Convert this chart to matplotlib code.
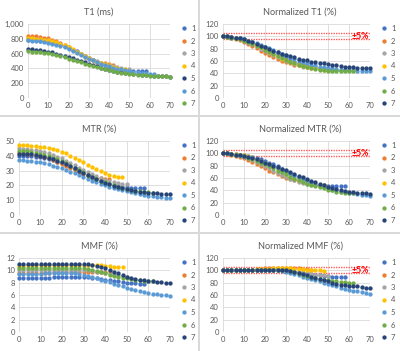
import matplotlib.pyplot as plt
from matplotlib.patches import Rectangle
from matplotlib.ticker import FuncFormatter

plt.rcParams['font.family'] = ['Lato', 'DejaVu Sans']

times = list(range(0, 72, 2))  # scan time, sampled every 2
labels = ['1', '2', '3', '4', '5', '6', '7']

blue, orange, grey, yellow = '#4472C4', '#ED7D31', '#A5A5A5', '#FFC000'
lblue, green, navy = '#5B9BD5', '#70AD47', '#264478'
colors = [blue, orange, grey, yellow, lblue, green, navy]
colors_t1 = [blue, orange, grey, yellow, navy, lblue, green]

# T1 (ms)
t1 = [
    [790, 785, 780, 775, 768, 760, 748, 735, 718, 700, 680, 655, 630, 600, 570, 540, 510, 485, 462, 442, 425, 410, 398, 388, 380, 374, 369, 365, 362, 360],
    [840, 838, 833, 826, 817, 805, 790, 770, 748, 722, 694, 655, 620, 588, 558, 530, 508, 490, 477, 467, 459, 452],
    [800, 798, 794, 788, 780, 770, 757, 742, 724, 703, 680, 655, 628, 600, 572, 545, 520, 497, 477, 458, 442, 428, 415, 404, 394, 386],
    [810, 808, 804, 798, 790, 780, 768, 752, 733, 710, 685, 657, 627, 597, 567, 540, 515, 493, 473, 456, 440, 425, 410, 398, 390],
    [660, 658, 655, 650, 640, 628, 615, 600, 585, 568, 551, 534, 517, 499, 481, 462, 444, 426, 410, 395, 381, 369, 358, 349, 341, 334, 327, 321, 315, 310, 305, 300, 296, 293, 291, 290],
    [780, 776, 770, 764, 756, 746, 734, 720, 703, 684, 662, 638, 612, 585, 558, 532, 507, 484, 463, 444, 427, 412, 398, 386, 375, 365, 356, 348, 340, 333, 326, 320],
    [630, 628, 625, 620, 612, 602, 590, 577, 563, 548, 533, 517, 500, 483, 466, 449, 432, 416, 401, 387, 374, 363, 353, 344, 336, 329, 322, 316, 311, 306, 302, 299, 296, 294, 292, 290],
]

# Normalized T1 (%)
t1_norm = [
    [100, 99, 99, 98, 97, 95, 93, 91, 88, 85, 82, 79, 75, 72, 68, 65, 62, 59, 57, 55, 53, 51, 50, 49, 48, 47, 46, 46, 45, 45],
    [100, 99, 98, 96, 94, 91, 88, 85, 81, 77, 73, 69, 66, 63, 60, 58, 56, 54, 53, 52, 51, 50],
    [100, 99, 98, 97, 95, 93, 90, 87, 84, 80, 77, 73, 70, 66, 63, 60, 58, 55, 53, 51, 50, 49, 48, 47, 46, 45],
    [100, 100, 99, 98, 96, 94, 92, 89, 86, 82, 79, 75, 71, 68, 64, 61, 58, 56, 54, 52, 50, 49, 48, 47, 46],
    [100, 100, 99, 98, 97, 95, 93, 91, 89, 86, 83, 81, 78, 75, 72, 69, 66, 63, 61, 58, 56, 54, 53, 51, 50, 49, 48, 47, 46, 46, 45, 45, 44, 44, 44, 44],
    [100, 99, 98, 97, 95, 93, 91, 88, 85, 82, 78, 75, 71, 68, 65, 62, 59, 56, 54, 52, 50, 48, 47, 46, 45, 44, 44, 43, 43, 43, 43, 43],
    [100, 100, 99, 98, 97, 95, 93, 91, 88, 85, 82, 79, 77, 74, 72, 70, 68, 66, 64, 62, 61, 59, 58, 57, 56, 55, 54, 53, 52, 51, 50, 50, 49, 49, 48, 48],
]

# MTR (%)
mtr = [
    [40, 40, 39.8, 39.6, 39.3, 38.9, 38.4, 37.8, 37, 36.1, 35, 33.8, 32.5, 31.1, 29.7, 28.3, 26.9, 25.5, 24.2, 23, 21.9, 21, 20.2, 19.6, 19.1, 18.7, 18.5, 18.3, 18.2, 18.1],
    [42, 41.8, 41.5, 41.1, 40.6, 40, 39.2, 38.3, 37.2, 36, 34.7, 33.3, 31.8, 30.3, 28.9, 27.6, 26.5, 25.7, 25.1, 24.7, 24.5, 24.4],
    [45, 44.8, 44.5, 44.2, 43.8, 43.2, 42.5, 41.7, 40.7, 39.5, 38.2, 36.8, 35.2, 33.6, 32, 30.4, 28.9, 27.4, 26.1, 24.9, 23.8, 22.9, 22.2, 21.6, 21.2, 21],
    [47, 47, 47, 46.5, 46.5, 46.2, 45.8, 45.2, 44.5, 43.8, 42.8, 41.6, 40.2, 38.7, 37.2, 35.6, 34, 32.4, 30.9, 29.5, 28.3, 27.3, 26.5, 26, 25.7],
    [37, 36.9, 36.7, 36.4, 36, 35.5, 34.9, 34.2, 33.4, 32.5, 31.5, 30.4, 29.3, 28.1, 26.9, 25.7, 24.5, 23.3, 22.2, 21.1, 20.1, 19.2, 18.3, 17.5, 16.7, 16, 15.3, 14.7, 14.1, 13.6, 13.1, 12.7, 12.3, 12, 11.7, 11.5],
    [43.5, 43.3, 43, 42.6, 42.1, 41.5, 40.7, 39.8, 38.7, 37.5, 36.2, 34.8, 33.3, 31.8, 30.3, 28.8, 27.3, 25.9, 24.6, 23.3, 22.1, 21, 20, 19.1, 18.3, 17.6, 17, 16.5, 16, 15.6, 15.3, 15],
    [41.5, 41.4, 41.2, 41, 40.6, 40.1, 39.5, 38.7, 37.8, 36.8, 35.6, 34.3, 32.9, 31.5, 30, 28.5, 27, 25.6, 24.3, 23, 21.8, 20.7, 19.7, 18.9, 18.1, 17.4, 16.8, 16.3, 15.8, 15.4, 15.1, 14.8, 14.6, 14.4, 14.2, 14],
]

# Normalized MTR (%)
mtr_norm = [
    [100, 100, 99, 99, 98, 97, 96, 94, 92, 90, 88, 85, 82, 79, 75, 72, 68, 65, 62, 59, 56, 53, 51, 49, 48, 47, 47, 47, 47, 47],
    [100, 99, 98, 96, 94, 92, 89, 86, 83, 79, 76, 72, 69, 66, 63, 60, 58, 56, 55, 54, 53, 53],
    [100, 100, 99, 98, 96, 94, 92, 89, 86, 83, 79, 76, 72, 68, 65, 62, 59, 56, 54, 52, 50, 49, 48, 47, 47, 46],
    [100, 100, 99, 99, 98, 97, 95, 93, 91, 88, 85, 82, 78, 74, 71, 67, 64, 60, 57, 55, 52, 50, 49, 48, 48],
    [100, 100, 99, 98, 97, 96, 94, 92, 90, 88, 85, 82, 79, 76, 73, 70, 66, 63, 60, 57, 54, 52, 49, 47, 45, 43, 41, 40, 38, 37, 36, 35, 34, 33, 32, 31],
    [100, 100, 99, 98, 97, 95, 93, 91, 88, 85, 82, 79, 76, 72, 69, 66, 62, 59, 56, 54, 51, 49, 47, 45, 43, 41, 40, 38, 37, 36, 36, 35],
    [100, 100, 99, 98, 97, 96, 94, 92, 90, 88, 85, 83, 80, 78, 75, 73, 70, 67, 64, 61, 58, 55, 53, 50, 48, 46, 44, 42, 41, 39, 38, 37, 36, 35, 35, 34],
]

# MMF (%)
mmf = [
    [8.8, 8.8, 8.8, 8.8, 8.8, 8.8, 8.8, 8.8, 8.9, 8.9, 8.9, 9.0, 9.0, 9.0, 9.0, 9.0, 8.9, 8.8, 8.7, 8.6, 8.5, 8.4, 8.3, 8.2, 8.1, 8.0, 7.9, 7.9, 7.8, 7.8],
    [9.5, 9.5, 9.5, 9.5, 9.5, 9.6, 9.6, 9.6, 9.7, 9.7, 9.8, 9.8, 9.8, 9.8, 9.8, 9.8, 9.8, 9.8, 9.8, 9.7, 9.7, 9.7],
    [10.1, 10.1, 10.1, 10.1, 10.1, 10.1, 10.1, 10.1, 10.1, 10.1, 10.1, 10.1, 10.1, 10.1, 10.1, 10.1, 10.0, 9.9, 9.8, 9.7, 9.5, 9.4, 9.3, 9.2, 9.1, 9.0],
    [10.7, 10.7, 10.8, 10.8, 10.8, 10.9, 10.9, 10.9, 10.9, 10.9, 10.9, 10.9, 10.9, 10.9, 10.9, 10.9, 10.9, 10.9, 10.8, 10.8, 10.7, 10.7, 10.6, 10.6, 10.5],
    [9.4, 9.4, 9.4, 9.4, 9.4, 9.4, 9.5, 9.5, 9.5, 9.5, 9.5, 9.5, 9.5, 9.5, 9.4, 9.3, 9.1, 8.9, 8.7, 8.5, 8.3, 8.1, 7.8, 7.6, 7.4, 7.2, 7.0, 6.8, 6.6, 6.5, 6.3, 6.2, 6.1, 6.0, 6.0, 5.9],
    [10.3, 10.3, 10.3, 10.3, 10.3, 10.3, 10.3, 10.3, 10.3, 10.3, 10.3, 10.3, 10.3, 10.3, 10.3, 10.3, 10.2, 10.1, 9.9, 9.7, 9.5, 9.3, 9.1, 9.0, 8.8, 8.7, 8.6, 8.5, 8.4, 8.3, 8.2, 8.2],
    [11, 11, 11, 11, 11, 11, 11, 11, 11, 11, 11, 11, 11, 11, 11, 11, 11, 10.9, 10.7, 10.5, 10.3, 10.0, 9.7, 9.5, 9.2, 9.0, 8.8, 8.6, 8.5, 8.4, 8.3, 8.2, 8.1, 8.1, 8.0, 8.0],
]

# Normalized MMF (%)
mmf_norm = [
    [100, 100, 100, 100, 100, 100, 100, 101, 101, 101, 102, 102, 102, 102, 101, 100, 99, 98, 97, 96, 95, 94, 93, 92, 91, 91, 90, 90, 89, 89],
    [100, 100, 100, 100, 100, 101, 101, 101, 102, 102, 103, 103, 103, 104, 104, 104, 103, 103, 103, 102, 102, 101],
    [100, 100, 100, 100, 100, 100, 100, 100, 100, 100, 100, 100, 100, 100, 100, 100, 99, 98, 97, 96, 95, 94, 93, 92, 92, 91],
    [100, 100, 100, 100, 101, 101, 101, 101, 102, 102, 102, 102, 103, 103, 103, 103, 103, 102, 102, 102, 101, 101, 100, 100, 99],
    [100, 100, 100, 100, 100, 100, 100, 100, 100, 100, 100, 100, 100, 100, 99, 98, 96, 94, 92, 90, 88, 86, 84, 82, 80, 78, 76, 74, 72, 70, 68, 67, 66, 65, 64, 62],
    [100, 100, 100, 100, 100, 100, 100, 100, 100, 100, 100, 100, 100, 100, 100, 100, 99, 97, 95, 93, 91, 89, 88, 86, 85, 84, 83, 82, 81, 81, 80, 80],
    [100, 100, 100, 100, 100, 100, 100, 100, 100, 100, 100, 100, 100, 100, 100, 100, 99, 98, 96, 94, 92, 90, 88, 86, 84, 82, 80, 78, 77, 76, 75, 74, 74, 73, 72, 72],
]

W, H = 400, 351
fig = plt.figure(figsize=(W / 100, H / 100), dpi=100, facecolor='#d9d9d9')

text_col = '#595959'
grid_col = '#d9d9d9'

# (title, data, colours, ymax, ystep, plot-left px, panel x, panel y, show +-5% band)
panels = [
    ('T1 (ms)', t1, colors_t1, 1000, 200, 28, 0, 0, False),
    ('Normalized T1 (%)', t1_norm, colors, 120, 20, 223, 200, 0, True),
    ('MTR (%)', mtr, colors, 50, 10, 18.5, 0, 117, False),
    ('Normalized MTR (%)', mtr_norm, colors, 120, 20, 223, 200, 117, True),
    ('MMF (%)', mmf, colors, 12, 2, 19, 0, 234, False),
    ('Normalized MMF (%)', mmf_norm, colors, 120, 20, 223, 200, 234, True),
]

for title, data, cols, ymax, ystep, left, ox, oy, band in panels:
    # white chart background
    pw = 198 if ox == 0 else 200
    ph = 115 if oy < 234 else 117
    fig.patches.append(Rectangle((ox / W, 1 - (oy + ph) / H), pw / W, ph / H,
                                 transform=fig.transFigure, facecolor='white',
                                 edgecolor='none', zorder=-5))
    top, bottom, right = oy + 24, oy + 98, ox + 170
    ax = fig.add_axes([left / W, 1 - bottom / H, (right - left) / W, (bottom - top) / H])
    ax.set_zorder(2)
    ax.set_facecolor('none')

    for i, vals in enumerate(data):
        ax.plot(times[:len(vals)], vals, 'o', ms=3.1, mec='none', color=cols[i],
                label=labels[i], zorder=3 + i, clip_on=False)

    if band:
        ax.axhline(95, color='#ff5c5c', lw=1.0, ls=(0, (1, 0.8)), zorder=2)
        ax.axhline(105, color='#ff5c5c', lw=1.0, ls=(0, (1, 0.8)), zorder=2)
        ax.text(69.5, 100, '±5%', color='#ff0000', fontsize=6.2, fontweight='bold',
                ha='right', va='center', zorder=12)

    ax.set_xlim(0, 70)
    ax.set_ylim(0, ymax)
    ax.set_xticks(range(0, 71, 10))
    ax.set_yticks(range(0, ymax + 1, ystep))
    ax.yaxis.set_major_formatter(FuncFormatter(lambda v, p: f'{int(v):,}'))
    ax.grid(True, color=grid_col, lw=0.6)
    ax.set_axisbelow(True)
    for s in ax.spines.values():
        s.set_visible(False)
    ax.tick_params(length=0, labelsize=5.5, labelcolor=text_col, pad=3)

    fig.text((ox + pw / 2) / W, 1 - (oy + 12) / H, title, ha='center', va='center',
             fontsize=6.6, color=text_col, zorder=3)

    leg = ax.legend(loc='upper left', bbox_to_anchor=((ox + 181 - left) / (right - left), 1.0 - 1 / 74),
                    frameon=False, fontsize=5.5, labelspacing=0.72, handlelength=0.8,
                    handletextpad=0.5, borderaxespad=0, borderpad=0, markerscale=1.0)
    for t in leg.get_texts():
        t.set_color(text_col)

plt.savefig('out.png', dpi=100, facecolor=fig.get_facecolor())
